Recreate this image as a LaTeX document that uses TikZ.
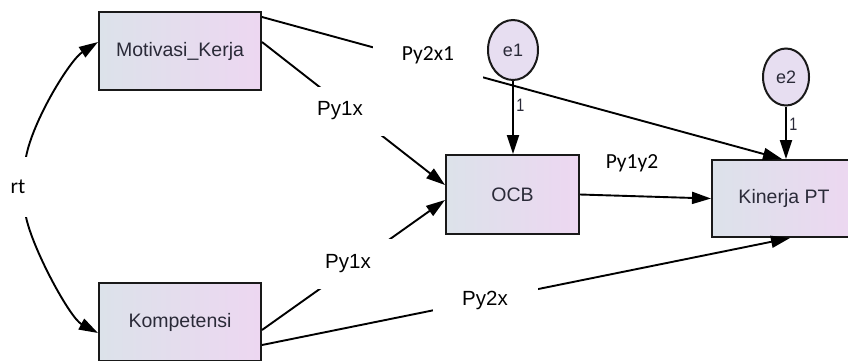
\documentclass[tikz,border=0pt]{standalone}
\usepackage{fontspec}
\setmainfont{Liberation Sans}
\newfontfamily\labelfont{Carlito}
\usetikzlibrary{arrows.meta,calc,shapes.geometric}
\definecolor{boxleft}{HTML}{DCE2EA}
\definecolor{boxright}{HTML}{EDD7F1}
\definecolor{errfill}{HTML}{E7DEF1}
\definecolor{boxtext}{HTML}{2A2A38}
\tikzset{
  var/.style={draw=black!90, line width=2pt, left color=boxleft, right color=boxright,
    text=boxtext, font=\fontsize{19.5}{21}\selectfont, inner sep=0pt},
  err/.style={draw=black!90, line width=2pt, fill=errfill, ellipse, text=boxtext,
    font=\fontsize{18}{20}\selectfont, inner sep=0pt},
  path/.style={line width=1.9pt, -{Triangle[length=19pt,width=12pt]}},
  coef/.style={fill=white, inner sep=0pt, font=\labelfont\fontsize{21.5}{24}\selectfont},
  coefa/.style={fill=white, inner sep=0pt, font=\fontsize{20.5}{24}\selectfont},
  one/.style={font=\fontsize{18}{20}\selectfont, text=boxtext, xscale=0.8}
}
\begin{document}
\begin{tikzpicture}[x=1pt,y=-1pt]
\useasboundingbox (0,0) rectangle (848,360);
% observed variables
\node[var, minimum width=162pt, minimum height=78pt] (mk) at (180,51) {Motivasi\_Kerja};
\node[var, minimum width=162pt, minimum height=78pt] (kom) at (180,322) {Kompetensi};
\node[var, minimum width=133pt, minimum height=79pt] (ocb) at (512.5,194.5) {OCB};
\node[var, minimum width=144pt, minimum height=77pt] (kp) at (784,198.5) {Kinerja PT};
% error terms
\node[err, minimum width=50pt, minimum height=60pt] (e1) at (513,50) {e1};
\node[err, minimum width=46pt, minimum height=57pt] (e2) at (786,77) {e2};
% ends of the covariance arcs
\coordinate (rtup) at (26,157);
\coordinate (rtdn) at (26,217);
% covariance arcs
\draw[path] (rtup) .. controls (33,120) and (70,60) .. ([yshift=9pt]mk.west);
\draw[path] (rtdn) .. controls (33,250) and (70,318) .. ([yshift=-11pt]kom.west);
% structural paths
\draw[path] ([yshift=-6pt]mk.north east) -- ([xshift=-2pt]kp.north);
\draw[path] ([yshift=9pt]mk.east) -- ([yshift=9.5pt]ocb.west);
\draw[path] ([yshift=-8pt]kom.east) -- ([yshift=-5.5pt]ocb.west);
\draw[path] ([yshift=-23pt]kom.east) -- ([xshift=6pt]kp.south);
\draw[path] (ocb.east) -- (kp.west);
% error paths
\draw[path] (e1.south) -- (e1.south |- ocb.north) node[one, pos=0.33, right=0pt] {1};
\draw[path] (e2.south) -- (e2.south |- kp.north) node[one, pos=0.33, right=0pt] {1};
% coefficient labels
\node[coef, minimum width=110pt, minimum height=50pt] (p21) at (428,55) {Py2x1};
\node[coefa, minimum width=100pt, minimum height=49pt] (p1a) at (340,111) {Py1x};
\node[coefa, minimum width=100pt, minimum height=50pt] (p1b) at (348,264) {Py1x};
\node[coefa, minimum width=105pt, minimum height=50pt] (p2x) at (485,300) {Py2x};
\node[coef, minimum width=100pt, minimum height=44pt] (p12) at (632,163) {Py1y2};
\node[coef, minimum width=36pt, minimum height=60pt] (rt) at (18,187) {rt};
\end{tikzpicture}
\end{document}
